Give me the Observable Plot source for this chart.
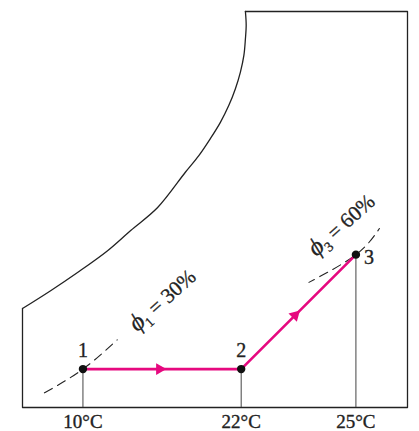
<!DOCTYPE html>
<html>
<head>
<meta charset="utf-8">
<script src="https://cdn.jsdelivr.net/npm/d3@7"></script>
<script src="https://cdn.jsdelivr.net/npm/@observablehq/plot@0.6"></script>
<style>
  html, body { margin: 0; padding: 0; background: #fff; }
</style>
</head>
<body>
<div id="chart"></div>
<script>
// Schematic chart units: x 0..100 (left to right frame), y 0..100 (bottom to top frame)
const frameX = [0, 0, 100, 100, 57.9];
const frameY = [25, 0, 0, 100, 100];

const satX = [0, 7.3, 14.3, 22.1, 28.1, 35.1, 42.3, 45.8, 48.8, 51.4, 53.6, 55.3, 56.6, 57.5, 57.9, 58.1, 57.9];
const satY = [25, 29.5, 34.1, 39.6, 44.7, 50.5, 59.4, 63.6, 67.9, 72.0, 76.3, 80.5, 84.7, 88.9, 93.1, 96.5, 100];

const stateNames = ["1", "2", "3"];
const stateX = [15.7, 56.8, 86.6];
const stateY = [9.7, 9.7, 38.6];

const tickLabels = ["10°C", "22°C", "25°C"];

const phi1X = [5.7, 15.7, 24.6];
const phi1Y = [3.7, 9.7, 17.1];
const phi3X = [74.4, 86.6, 92.7];
const phi3Y = [31.6, 38.6, 45.2];

const phiLabels = ["ϕ|1| = 30%", "ϕ|3| = 60%"];
const phiLabelX = [36.4, 82.9];
const phiLabelY = [27.0, 46.0];

const arrowX = [35.6, 70.8];
const arrowY = [9.7, 23.3];
const arrowAngle = [90, 45];

const zip = (xs, ys) => xs.map((x, i) => ({x, y: ys[i]}));
const frame = zip(frameX, frameY);
const sat = zip(satX, satY);
const states = stateNames.map((n, i) => ({name: n, x: stateX[i], y: stateY[i]}));
const phi1 = zip(phi1X, phi1Y);
const phi3 = zip(phi3X, phi3Y);
const phiL = phiLabels.map((t, i) => ({t, x: phiLabelX[i], y: phiLabelY[i]}));
const arrows = arrowX.map((x, i) => ({x, y: arrowY[i], a: arrowAngle[i]}));
const ticks = tickLabels.map((t, i) => ({t, x: stateX[i]}));

const ink = "#222";
const magenta = "#e6097f";
const serif = "Liberation Serif, Times New Roman, serif";

const chart = Plot.plot({
  width: 419,
  height: 431,
  marginLeft: 22,
  marginRight: 12,
  marginTop: 11,
  marginBottom: 24,
  x: {domain: [0, 100], axis: null},
  y: {domain: [0, 100], axis: null},
  style: {fontFamily: serif, background: "#fff", color: ink},
  marks: [
    Plot.line(frame, {x: "x", y: "y", stroke: ink, strokeWidth: 1.3}),
    Plot.line(sat, {x: "x", y: "y", stroke: ink, strokeWidth: 1.3, curve: "catmull-rom"}),
    Plot.ruleX(states, {x: "x", y1: 0, y2: "y", stroke: "#444", strokeWidth: 1}),
    Plot.line(phi1, {x: "x", y: "y", stroke: ink, strokeWidth: 1.1, strokeDasharray: "9,6", curve: "natural"}),
    Plot.line(phi3, {x: "x", y: "y", stroke: ink, strokeWidth: 1.1, strokeDasharray: "9,6", strokeDashoffset: 3, curve: "natural"}),
    Plot.line(states, {x: "x", y: "y", stroke: magenta, strokeWidth: 2.6}),
    Plot.dot(arrows, {x: "x", y: "y", symbol: "triangle", r: 4.4, fill: magenta, stroke: "none", rotate: "a"}),
    Plot.dot(states, {x: "x", y: "y", r: 4.2, fill: "#111", stroke: "none"}),
    Plot.text(states.slice(0, 2), {x: "x", y: "y", text: "name", dy: -18, fontSize: 20, fill: ink, stroke: ink, strokeWidth: 0.35}),
    Plot.text(states.slice(2), {x: "x", y: "y", text: "name", dx: 13, dy: 3, fontSize: 20, fill: ink, stroke: ink, strokeWidth: 0.35}),
    Plot.text(ticks, {x: "x", y: 0, text: "t", dy: 14, fontSize: 19, fill: ink, stroke: ink, strokeWidth: 0.35}),
    Plot.text(phiL, {x: "x", y: "y", text: "t", rotate: -42, fontSize: 21, fill: ink, stroke: ink, strokeWidth: 0.3})
  ]
});

// rich formatting for phi labels: italic phi with subscript
d3.select(chart).selectAll("text").each(function() {
  const s = this.textContent;
  if (s.includes("|")) {
    const [a, b, c] = s.split("|");
    const el = d3.select(this);
    el.text(null);
    el.append("tspan").attr("font-style", "italic").attr("font-size", "25").text(a);
    el.append("tspan").attr("font-size", "14").attr("dy", "5").text(b);
    el.append("tspan").attr("dy", "-5").text(c);
  }
});

document.getElementById("chart").appendChild(chart);
</script>
</body>
</html>
